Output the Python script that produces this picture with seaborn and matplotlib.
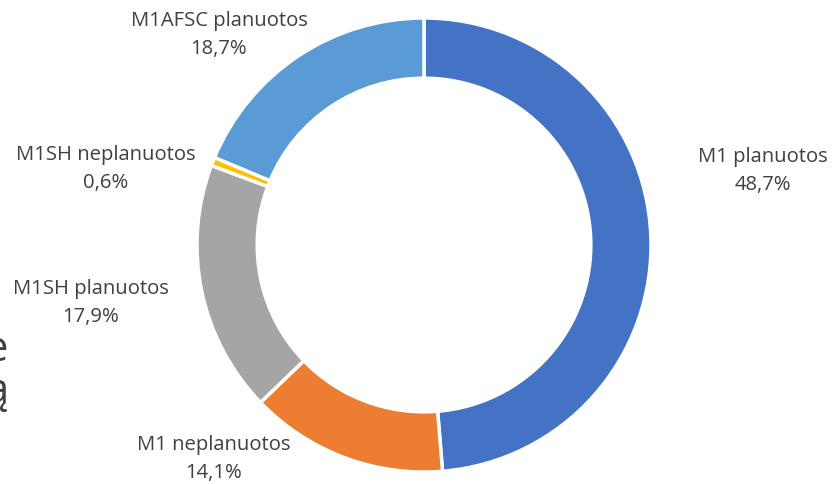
import matplotlib
matplotlib.use("Agg")
import matplotlib.pyplot as plt
import seaborn as sns

sns.set_theme(style="white")
plt.rcParams['font.family'] = ['Open Sans', 'DejaVu Sans']

categories = ["M1 planuotos", "M1 neplanuotos", "M1SH planuotos", "M1SH neplanuotos", "M1AFSC planuotos"]
values = [48.7, 14.1, 17.9, 0.6, 18.7]
value_labels = ["48,7%", "14,1%", "17,9%", "0,6%", "18,7%"]
colors = ["#4472C4", "#ED7D31", "#A5A5A5", "#FFC000", "#5B9BD5"]

W, H = 833, 485
fig = plt.figure(figsize=(W / 100, H / 100), dpi=100)
ax = fig.add_axes([0, 0, 1, 1])
ax.set_xlim(0, W)
ax.set_ylim(0, H)
ax.set_aspect('equal')
ax.axis('off')

cx, cy, R = 424, H - 246, 227
ax.pie(values, colors=colors, startangle=90, counterclock=False,
       center=(cx, cy), radius=R,
       wedgeprops=dict(width=R * 0.265, edgecolor='white', linewidth=2.5))
ax.set_xlim(0, W)
ax.set_ylim(0, H)

label_pos = [(763, 171), (214, 459), (91, 303), (106, 169), (219, 35)]
for cat, lab, (x, y) in zip(categories, value_labels, label_pos):
    ax.text(x, H - y, f"{cat}\n{lab}", ha='center', va='center', fontsize=14.6,
            color='#404040', linespacing=1.52)

# cropped slide text at left edge
ax.text(8, H - 350, "e", ha='right', va='center', fontsize=30, color='#404040')
ax.text(8, H - 392, "ą", ha='right', va='center', fontsize=30, color='#404040')

fig.savefig("out.png", dpi=100)
